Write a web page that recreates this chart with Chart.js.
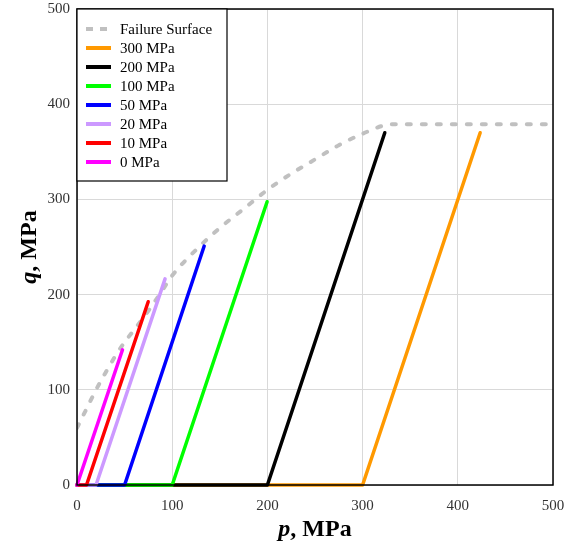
<!DOCTYPE html>
<html>
<head>
<meta charset="utf-8">
<script src="https://cdn.jsdelivr.net/npm/chart.js@4.4.1/dist/chart.umd.min.js"></script>
<style>
  html, body { margin: 0; padding: 0; background: #fff; }
  #wrap { width: 565px; height: 545px; position: relative; }
</style>
</head>
<body>
<div id="wrap"><canvas id="pq"></canvas></div>
<script>
// failure envelope in p-q space
const failureP = [0, 10, 20, 30, 40, 50, 60, 75, 90, 100, 125, 150, 175, 200, 225, 250, 275, 300, 320, 330, 400, 500];
const failureQ = [60, 80, 100, 118, 135, 150, 163, 183, 205, 220, 247, 270, 290, 310, 327, 342, 357, 369, 377, 379, 379, 379];

// triaxial loading paths: confining pressure, then peak point
const pathLabels = ['300 MPa', '200 MPa', '100 MPa', '50 MPa', '20 MPa', '10 MPa', '0 MPa'];
const confining = [300, 200, 100, 50, 20, 10, 0];
const peakP = [423.5, 323.3, 199.7, 133.6, 92.5, 74.8, 47.8];
const peakQ = [370, 370, 297.5, 251, 216.5, 192.5, 142];
const pathColors = ['#ff9900', '#000000', '#00ff00', '#0000ff', '#cc99ff', '#ff0000', '#ff00ff'];

const axisTicks = [0, 100, 200, 300, 400, 500];

const SERIF = '"Liberation Serif", "Times New Roman", serif';

const datasets = [{
    label: 'Failure Surface',
    data: failureP.map((p, i) => ({ x: p, y: failureQ[i] })),
    borderColor: '#c0c0c0',
    borderWidth: 4,
    borderDash: [4, 11],
    borderCapStyle: 'round',
    cubicInterpolationMode: 'monotone',
    order: pathLabels.length
}];
pathLabels.forEach((label, i) => {
    datasets.push({
        label: label,
        data: [{ x: 0, y: 0 }, { x: confining[i], y: 0 }, { x: peakP[i], y: peakQ[i] }],
        borderColor: pathColors[i],
        borderWidth: 3.5,
        borderCapStyle: 'round',
        borderJoinStyle: 'round',
        clip: 4,
        // lower confining pressure drawn on top
        order: confining.length - 1 - i
    });
});

/**
 * 畫出軸標題: 斜體符號 + 粗體單位
 */
function drawTitle(ctx, sym, rest, x, y, rot) {
    const f1 = 'italic bold 24px ' + SERIF;
    const f2 = 'bold 24px ' + SERIF;
    ctx.save();
    ctx.translate(x, y);
    ctx.rotate(rot);
    ctx.font = f1;
    const w1 = ctx.measureText(sym).width;
    ctx.font = f2;
    const w2 = ctx.measureText(rest).width;
    const x0 = -(w1 + w2) / 2;
    ctx.textBaseline = 'middle';
    ctx.textAlign = 'left';
    ctx.fillStyle = '#000';
    ctx.font = f1;
    ctx.fillText(sym, x0, 0);
    ctx.font = f2;
    ctx.fillText(rest, x0 + w1, 0);
    ctx.restore();
}

const frameAndLegend = {
    id: 'frameAndLegend',
    afterDatasetsDraw(chart) {
        const { ctx, chartArea: a } = chart;
        ctx.save();
        ctx.strokeStyle = '#000';
        ctx.lineWidth = 1.5;
        ctx.strokeRect(a.left, a.top, a.right - a.left, a.bottom - a.top);

        // legend box in the upper left corner
        const items = chart.data.datasets;
        const boxW = 150, rowH = 19;
        const boxH = 20 + items.length * rowH;
        ctx.fillStyle = '#fff';
        ctx.fillRect(a.left, a.top, boxW, boxH);
        ctx.lineWidth = 1.2;
        ctx.strokeRect(a.left, a.top, boxW, boxH);

        ctx.font = '15px ' + SERIF;
        ctx.textBaseline = 'middle';
        ctx.textAlign = 'left';
        items.forEach((ds, i) => {
            const y = a.top + 20 + i * rowH;
            ctx.strokeStyle = ds.borderColor;
            ctx.lineWidth = 4;
            ctx.lineCap = 'butt';
            if (ds.borderDash) {
                ctx.setLineDash([7, 7]);
                ctx.beginPath();
                ctx.moveTo(a.left + 9, y);
                ctx.lineTo(a.left + 30, y);
                ctx.stroke();
                ctx.setLineDash([]);
            } else {
                ctx.beginPath();
                ctx.moveTo(a.left + 9, y);
                ctx.lineTo(a.left + 34, y);
                ctx.stroke();
            }
            ctx.fillStyle = '#000';
            ctx.fillText(ds.label, a.left + 43, y + 1);
        });
        ctx.restore();
    },
    afterDraw(chart) {
        const { ctx, chartArea: a } = chart;
        drawTitle(ctx, 'p', ', MPa', (a.left + a.right) / 2, 530, 0);
        drawTitle(ctx, 'q', ', MPa', 30, (a.top + a.bottom) / 2, -Math.PI / 2);
    }
};

function axisOptions(fit) {
    return {
        type: 'linear',
        min: axisTicks[0],
        max: axisTicks[axisTicks.length - 1],
        afterBuildTicks: (scale) => { scale.ticks = axisTicks.map(v => ({ value: v })); },
        afterFit: (s) => {
            fit(s);
            // labels may hang past the plot edges
            s.paddingTop = 0;
            s.paddingBottom = 0;
            s.paddingLeft = 0;
            s.paddingRight = 0;
        },
        ticks: {
            font: { family: SERIF, size: 15 },
            color: '#333',
            padding: 12
        },
        grid: { color: '#d9d9d9', lineWidth: 1, drawTicks: false },
        border: { display: false }
    };
}

const yAxis = axisOptions((s) => { s.width = 77; });
yAxis.ticks.padding = 7;

new Chart(document.getElementById('pq'), {
    type: 'line',
    data: { datasets: datasets },
    plugins: [frameAndLegend],
    options: {
        responsive: true,
        maintainAspectRatio: false,
        animation: false,
        elements: { point: { radius: 0 } },
        layout: { padding: { top: 9, right: 12, left: 0, bottom: 0 } },
        plugins: {
            legend: { display: false },
            tooltip: { enabled: false }
        },
        scales: {
            x: axisOptions((s) => { s.height = 60; }),
            y: yAxis
        }
    }
});
</script>
</body>
</html>
